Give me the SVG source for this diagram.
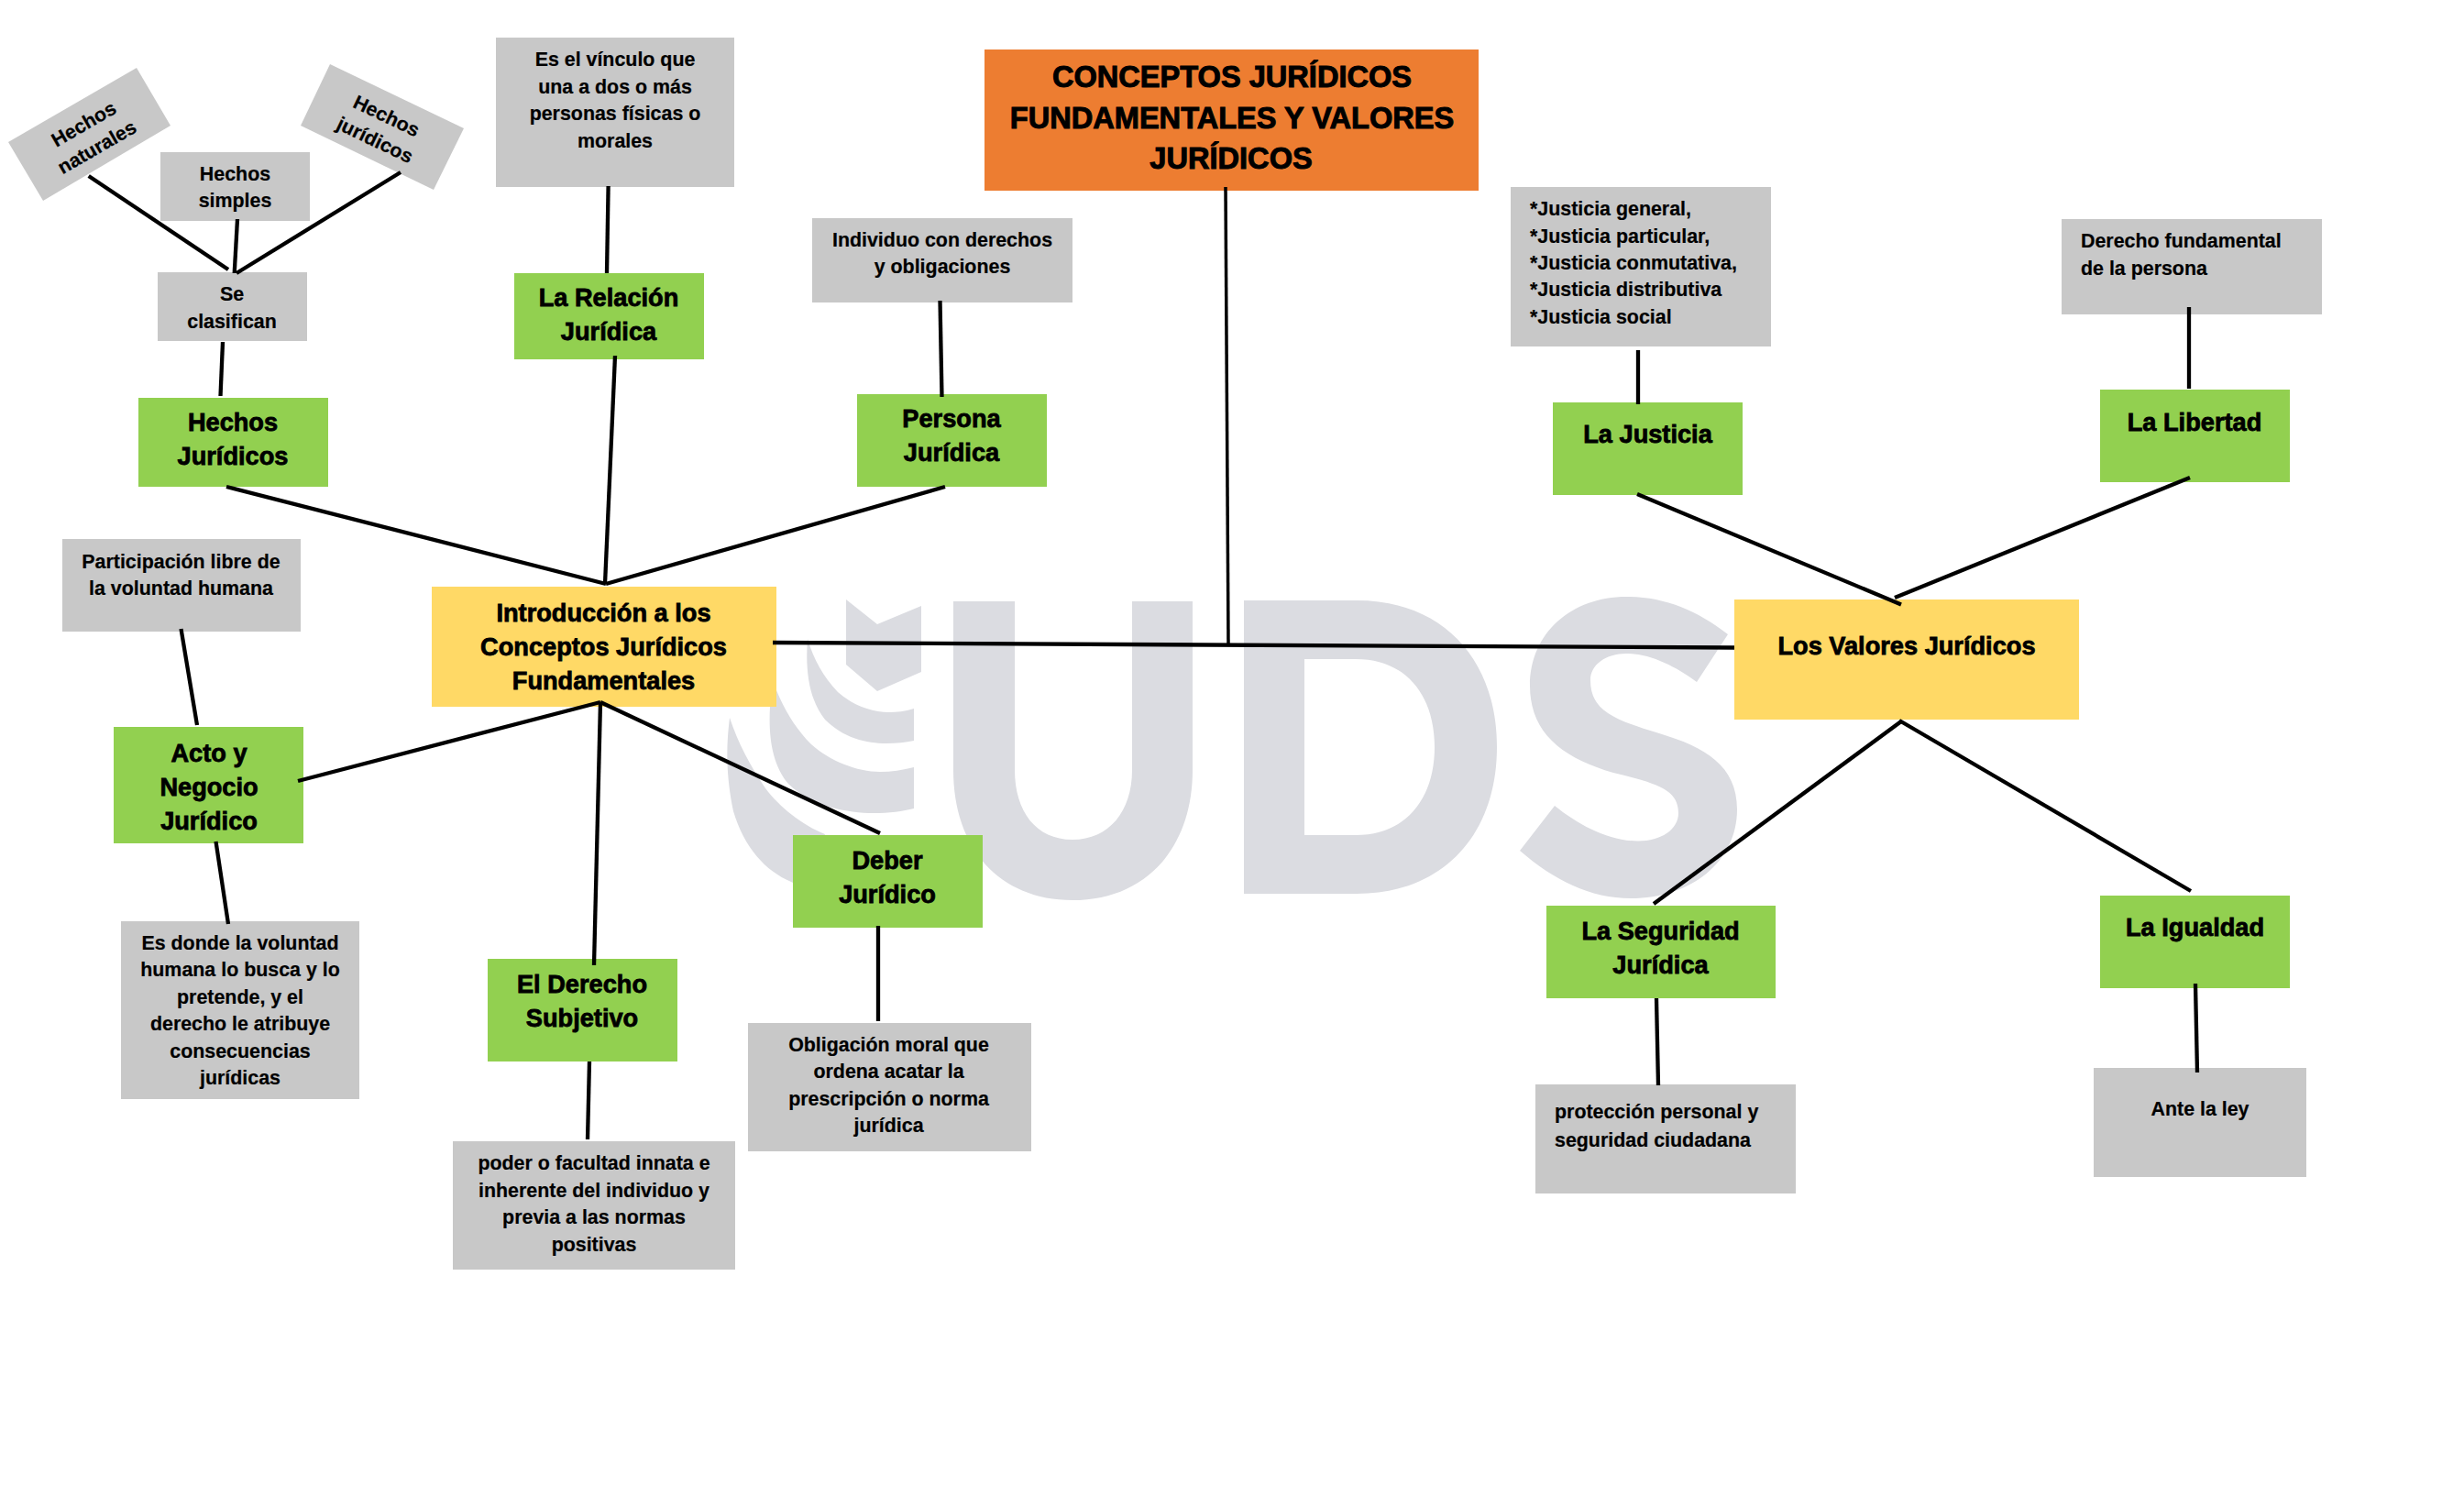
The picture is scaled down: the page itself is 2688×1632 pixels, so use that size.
<svg xmlns="http://www.w3.org/2000/svg" width="2688" height="1632" viewBox="0 0 2688 1632">
<style>
text{font-family:"Liberation Sans",Arial,sans-serif;font-weight:700;fill:#000;text-anchor:middle}
.l{text-anchor:start}
.g text{font-size:21.400px;stroke:#000;stroke-width:.2px}
.v text{font-size:27.200px;stroke:#000;stroke-width:.8px}
.y text{font-size:27.200px;stroke:#000;stroke-width:.8px}
.t text{font-size:32.600px;stroke:#000;stroke-width:1px}
.g rect,.g polygon{fill:#c8c8c8}
.v rect{fill:#92d050}
.y rect{fill:#ffd966}
.t rect{fill:#ed7d31}
#wm path{fill:#dbdce1}
#connectors line{stroke:#000;stroke-width:4.300;fill:none}
</style>
<rect width="2688" height="1632" fill="#fff"/>
<g id="wm">
<path d="M923 654L957 681L1005 661V733L957 754L923 725Z"/>
<path d="M881 697C878 735 884 765 900 785C920 805 945 811 967 811C978 811 988 810 997 808V773C987 776 978 777 970 777C950 777 930 769 914 755C898 738 888 720 881 697Z"/>
<path d="M845 735L840 771C838 805 843 835 860 855C885 880 925 887 953 887C970 887 985 885 997 882V837C985 840 972 842 960 842C935 842 905 830 885 812C868 795 856 775 847 753Z"/>
<path d="M796 783C792 815 792 845 800 885C812 925 835 950 863 962L880 970L900 910C875 900 850 880 835 860C818 835 805 810 796 783Z"/>
<path d="M1040 656H1107V840C1107 885 1130 916 1170 916C1210 916 1235 885 1235 840V656H1301V840C1301 925 1250 982 1170 982C1090 982 1040 925 1040 840Z"/>
<path fill-rule="evenodd" d="M1357 655H1480C1575 655 1633 720 1633 815C1633 910 1575 975 1480 975H1357ZM1423 719V911H1479C1535 911 1565 870 1565 815C1565 760 1535 719 1479 719Z"/>
<path d="M1885 692C1850 665 1815 651 1774 651C1715 651 1669 690 1669 748C1669 800 1705 827 1760 843C1810 855 1831 862 1831 887C1831 905 1812 917.500 1787 917.500C1755 917.500 1722 900 1696 879L1658 928C1695 960 1735 980 1779 980C1845 980 1895 940 1895 883C1895 835 1860 815 1810 800C1760 785 1735 775 1735 742C1735 725 1752 713 1774 713C1800 713 1828 727 1851 744Z"/>
</g>
<g id="title" class="t"><rect x="1074" y="54" width="539" height="154"/><text x="1344" y="95">CONCEPTOS JURÍDICOS</text><text x="1344" y="140">FUNDAMENTALES Y VALORES</text><text x="1343" y="184">JURÍDICOS</text></g>
<g id="intro" class="y"><rect x="471" y="640" width="376" height="131"/><text x="658.500" y="678">Introducción a los</text><text x="658.500" y="715">Conceptos Jurídicos</text><text x="658.500" y="752">Fundamentales</text></g>
<g id="valores" class="y"><rect x="1892" y="654" width="376" height="131"/><text x="2080" y="714">Los Valores Jurídicos</text></g>
<g id="hechos" class="v"><rect x="151" y="434" width="207" height="97"/><text x="254" y="470">Hechos</text><text x="254" y="507">Jurídicos</text></g>
<g id="relacion" class="v"><rect x="561" y="298" width="207" height="94"/><text x="664" y="334">La Relación</text><text x="664" y="371">Jurídica</text></g>
<g id="persona" class="v"><rect x="935" y="430" width="207" height="101"/><text x="1038" y="466">Persona</text><text x="1038" y="503">Jurídica</text></g>
<g id="acto" class="v"><rect x="124" y="793" width="207" height="127"/><text x="228" y="831">Acto y</text><text x="228" y="868">Negocio</text><text x="228" y="905">Jurídico</text></g>
<g id="derecho" class="v"><rect x="532" y="1046" width="207" height="112"/><text x="635" y="1083">El Derecho</text><text x="635" y="1120">Subjetivo</text></g>
<g id="deber" class="v"><rect x="865" y="911" width="207" height="101"/><text x="968" y="948">Deber</text><text x="968" y="985">Jurídico</text></g>
<g id="justicia" class="v"><rect x="1694" y="439" width="207" height="101"/><text x="1797.500" y="483">La Justicia</text></g>
<g id="libertad" class="v"><rect x="2291" y="425" width="207" height="101"/><text x="2394" y="470">La Libertad</text></g>
<g id="seguridad" class="v"><rect x="1687" y="988" width="250" height="101"/><text x="1811.500" y="1025">La Seguridad</text><text x="1811.500" y="1062">Jurídica</text></g>
<g id="igualdad" class="v"><rect x="2291" y="977" width="207" height="101"/><text x="2394.500" y="1021">La Igualdad</text></g>
<g id="naturales" class="g"><polygon points="149,74 186,137 47,219 9,155"/><text transform="rotate(-30 97.500 146)" x="97.500" y="141">Hechos</text><text transform="rotate(-30 97.500 146)" x="97.500" y="170">naturales</text></g>
<g id="juridicos" class="g"><polygon points="360,70 506,140 473,207 328,137"/><text transform="rotate(25.600 417 138.500)" x="416" y="133">Hechos</text><text transform="rotate(25.600 417 138.500)" x="416" y="162">jurídicos</text></g>
<g id="simples" class="g"><rect x="175" y="166" width="163" height="75"/><text x="256.500" y="197">Hechos</text><text x="256.500" y="226">simples</text></g>
<g id="clasifican" class="g"><rect x="172" y="297" width="163" height="75"/><text x="253" y="328">Se</text><text x="253" y="358">clasifican</text></g>
<g id="vinculo" class="g"><rect x="541" y="41" width="260" height="163"/><text x="671" y="72">Es el vínculo que</text><text x="671" y="102">una a dos o más</text><text x="671" y="131">personas físicas o</text><text x="671" y="161">morales</text></g>
<g id="individuo" class="g"><rect x="886" y="238" width="284" height="92"/><text x="1028" y="269">Individuo con derechos</text><text x="1028" y="298">y obligaciones</text></g>
<g id="participacion" class="g"><rect x="68" y="588" width="260" height="101"/><text x="197.500" y="620">Participación libre de</text><text x="197.500" y="649">la voluntad humana</text></g>
<g id="esdonde" class="g"><rect x="132" y="1005" width="260" height="194"/><text x="262" y="1036">Es donde la voluntad</text><text x="262" y="1065">humana lo busca y lo</text><text x="262" y="1095">pretende, y el</text><text x="262" y="1124">derecho le atribuye</text><text x="262" y="1154">consecuencias</text><text x="262" y="1183">jurídicas</text></g>
<g id="poder" class="g"><rect x="494" y="1245" width="308" height="140"/><text x="648" y="1276">poder o facultad innata e</text><text x="648" y="1306">inherente del individuo y</text><text x="648" y="1335">previa a las normas</text><text x="648" y="1365">positivas</text></g>
<g id="obligacion" class="g"><rect x="816" y="1116" width="309" height="140"/><text x="969.500" y="1147">Obligación moral que</text><text x="969.500" y="1176">ordena acatar la</text><text x="969.500" y="1206">prescripción o norma</text><text x="969.500" y="1235">jurídica</text></g>
<g id="tipos" class="g"><rect x="1648" y="204" width="284" height="174"/><text class="l" x="1669" y="235">*Justicia general,</text><text class="l" x="1669" y="265">*Justicia particular,</text><text class="l" x="1669" y="294">*Justicia conmutativa,</text><text class="l" x="1669" y="323">*Justicia distributiva</text><text class="l" x="1669" y="353">*Justicia social</text></g>
<g id="fundamental" class="g"><rect x="2249" y="239" width="284" height="104"/><text class="l" x="2270" y="270">Derecho fundamental</text><text class="l" x="2270" y="300">de la persona</text></g>
<g id="proteccion" class="g"><rect x="1675" y="1183" width="284" height="119"/><text class="l" x="1696" y="1220">protección personal y</text><text class="l" x="1696" y="1251">seguridad ciudadana</text></g>
<g id="ante" class="g"><rect x="2284" y="1165" width="232" height="119"/><text x="2400" y="1217">Ante la ley</text></g>
<g id="connectors">
<line x1="1337" y1="204" x2="1340" y2="702" style="stroke-width:3.500"/>
<line x1="843" y1="701" x2="1892" y2="706.500"/>
<line x1="247" y1="531" x2="661" y2="637"/>
<line x1="671" y1="388" x2="660" y2="637"/>
<line x1="1031" y1="531" x2="661" y2="637"/>
<line x1="655" y1="766" x2="325" y2="852"/>
<line x1="655" y1="766" x2="648" y2="1053"/>
<line x1="655" y1="766" x2="960" y2="909"/>
<line x1="197.500" y1="686" x2="215" y2="791"/>
<line x1="235.500" y1="918" x2="249" y2="1008"/>
<line x1="643" y1="1158" x2="641" y2="1243"/>
<line x1="958" y1="1010" x2="958" y2="1114"/>
<line x1="96.700" y1="192" x2="249" y2="294"/>
<line x1="259" y1="239" x2="255.700" y2="298"/>
<line x1="437" y1="188" x2="258" y2="298"/>
<line x1="243" y1="373" x2="240.500" y2="432"/>
<line x1="663.600" y1="203" x2="662" y2="298"/>
<line x1="1025.500" y1="328" x2="1027.500" y2="433"/>
<line x1="1787" y1="382" x2="1787" y2="441"/>
<line x1="2388" y1="335" x2="2388" y2="424"/>
<line x1="1786" y1="539" x2="2074" y2="659.500"/>
<line x1="2389" y1="521" x2="2067" y2="652"/>
<line x1="2074" y1="787" x2="1804" y2="986"/>
<line x1="2072" y1="786" x2="2390" y2="972"/>
<line x1="1807" y1="1089" x2="1809" y2="1184"/>
<line x1="2395" y1="1073" x2="2397" y2="1170"/>
</g>
</svg>
